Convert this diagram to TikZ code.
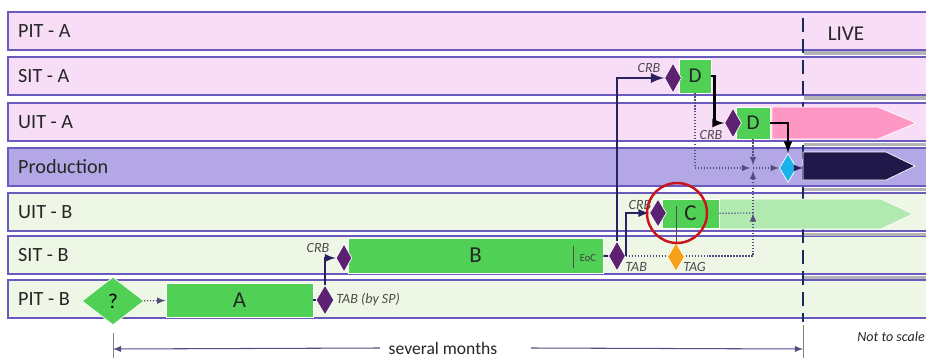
\documentclass[tikz,border=0pt]{standalone}
\usepackage{fontspec}
\setmainfont{Carlito}
\usetikzlibrary{shapes.geometric}

\definecolor{lanepink}{HTML}{F8DDF7}
\definecolor{laneprod}{HTML}{B3A8E5}
\definecolor{lanegreen}{HTML}{EEF6E6}
\definecolor{laneline}{HTML}{6A5AC0}
\definecolor{gapgrey}{HTML}{B4B4B4}
\definecolor{taskgreen}{HTML}{50D055}
\definecolor{gatepurple}{HTML}{5C2171}
\definecolor{livecyan}{HTML}{1AB2E8}
\definecolor{tagorange}{HTML}{F7A11A}
\definecolor{pinkarrow}{HTML}{FF97C5}
\definecolor{navyarrow}{HTML}{201848}
\definecolor{palearrow}{HTML}{B1EAB0}
\definecolor{flownavy}{HTML}{2A2160}
\definecolor{livenavy}{HTML}{1B2A5C}
\definecolor{focusred}{HTML}{C8151B}

\tikzset{
  lane/.style={draw=laneline, line width=0.8pt},
  lanename/.style={anchor=west, font=\fontsize{11.5}{13}\selectfont, text=black!85},
  task/.style={rectangle, fill=taskgreen, draw=white, line width=0.4pt, inner sep=0pt,
    font=\fontsize{13}{15}\selectfont, text=black!85},
  gate/.style={diamond, fill=gatepurple, draw=white, line width=0.4pt, inner sep=0pt,
    minimum width=0.34cm, minimum height=0.6cm},
  gatename/.style={font=\fontsize{8}{9}\selectfont\itshape, text=black!70, inner sep=0pt},
  flow/.style={draw=flownavy, line width=1.1pt, ->},
  blackflow/.style={draw=black, line width=1.3pt, ->},
  dotflow/.style={draw=flownavy!80, densely dotted, line width=0.7pt, ->},
  spanline/.style={draw=flownavy!80, line width=0.6pt, ->},
}

\begin{document}
\begin{tikzpicture}[x=0.02cm, y=-0.02cm, >=latex]
  \useasboundingbox (0,0) rectangle (926,358);
  \clip (0,0) rectangle (926,358);

  % Lanes
  \foreach \name/\top/\col [count=\i] in {PIT - A/12/lanepink, SIT - A/57/lanepink,
      UIT - A/103/lanepink, Production/148/laneprod, UIT - B/193/lanegreen,
      SIT - B/236/lanegreen, PIT - B/280/lanegreen}{
    \draw[lane, fill=\col] (8,\top) rectangle ++(940,38);
    \node[lanename] (lane\i) at (12,\top+19) {\name};
  }
  \foreach \top in {12,57,103,148,193,236}
    \fill[gapgrey] (804,\top+39.5) rectangle (948,\top+43);

  % Go-live line
  \draw[livenavy, line width=1.4pt, dash pattern=on 8pt off 4pt] (803,18) -- (803,322);
  \node[font=\fontsize{12}{14}\selectfont, text=black!85] (live) at (846,34) {LIVE};

  % Releases after go-live
  \fill[pinkarrow, draw=white] (772,107) -- (878,107) -- (916,123) -- (878,139) -- (772,139) -- cycle;
  \fill[navyarrow, draw=white] (803,152) -- (886,152) -- (915,166) -- (886,180) -- (803,180) -- cycle;
  \fill[palearrow, draw=white] (719,199) -- (881,199) -- (913,214) -- (881,229) -- (719,229) -- cycle;
  \coordinate (prodin) at (803,168);

  % PIT - B
  \node[diamond, fill=taskgreen, draw=white, inner sep=0pt, minimum width=1.24cm,
    minimum height=0.96cm, font=\fontsize{12}{14}\selectfont] (qgate) at (113,301) {?};
  \node[task, minimum width=2.94cm, minimum height=0.68cm] (A) at (239.5,300) {A};
  \node[gate, minimum width=0.36cm] (tabsp) at (325,300) {};
  \node[gatename, anchor=west] (tabsplabel) at (336,299) {TAB (by SP)};

  % SIT - B
  \node[task, minimum width=5.1cm, minimum height=0.7cm] (B) at (475.5,255.5) {B};
  \node[gate, minimum width=0.32cm, minimum height=0.56cm] (crbB) at (344,258) {};
  \node[gatename] (crbBlabel) at (318,248) {CRB};
  \draw[black!70, line width=0.5pt] (573,246) -- (573,268);
  \node[font=\fontsize{6}{7}\selectfont, text=black!75] (eoc) at (588,258) {EoC};
  \node[gate] (tabB) at (617,256) {};
  \node[gatename, anchor=west] (tabBlabel) at (625,267) {TAB};

  % UIT - B
  \node[task, minimum width=1.14cm, minimum height=0.58cm] (C) at (690.5,213.5) {C};
  \node[gate, minimum height=0.56cm] (crbUB) at (658,213) {};
  \node[gatename] (crbUBlabel) at (640,205) {CRB};

  % SIT - A and UIT - A
  \node[task, minimum width=0.64cm, minimum height=0.68cm, font=\fontsize{12}{14}\selectfont] (D1) at (695,76) {D};
  \node[gate] (crbSA) at (673,78) {};
  \node[gatename] (crbSAlabel) at (649,68) {CRB};
  \node[task, minimum width=0.68cm, minimum height=0.64cm, font=\fontsize{12}{14}\selectfont] (D2) at (753,123) {D};
  \node[gate] (crbUA) at (733,123) {};
  \node[gatename] (crbUAlabel) at (711,135) {CRB};

  % Production
  \node[gate, fill=livecyan, minimum height=0.58cm] (golive) at (788,168) {};
  \coordinate (tagjoin) at (753,213);
  \coordinate (mergept) at (753,168);

  % Dotted tracks
  \draw[dotflow] (qgate) -- (A);
  \draw[dotflow] (tabB.east) -| (tagjoin);
  \draw[dotflow, -] (C) -- (tagjoin);
  \draw[dotflow, shorten >=1.5pt] (tagjoin) -- (mergept);
  \draw[dotflow, shorten >=1.5pt] (D2) -- (mergept);
  \draw[dotflow, shorten >=1.5pt] (D1) |- (mergept);
  \draw[dotflow] (mergept) -- (golive);

  % TAG
  \node[gate, fill=tagorange, minimum height=0.58cm] (tag) at (676,257) {};
  \node[gatename, anchor=west] (taglabel) at (683,267) {TAG};
  \coordinate (tagtop) at (676,206);
  \draw[black!70, line width=0.5pt] (tag) -- (tagtop);

  % Solid tracks
  \draw[flow, -] (A) -- (tabsp);
  \draw[flow] (tabsp) |- (crbB);
  \draw[flow, -] (B) -- (tabB);
  \draw[flow, line width=1.6pt] (tabB) |- (crbSA);
  \draw[flow] (tabB.east) |- (crbUB);
  \draw[blackflow] (D1.east) -- ++(3,0) |- (crbUA);
  \draw[blackflow] (D2.east) -| (golive);
  \draw[flow, line width=0.8pt] (golive) -- (prodin);

  % Focus ring
  \node[circle, draw=focusred, line width=1.4pt, minimum size=1.2cm] (focus) at (677,213) {};

  % Time span
  \coordinate (spanL) at (113,349);
  \coordinate (spanR) at (803,349);
  \node[font=\fontsize{10}{12}\selectfont, text=black!85, inner sep=2pt] (span) at (443,348) {several months};
  \draw[spanline] ([xshift=-0.1cm]span.west) -- (spanL);
  \draw[spanline] ([xshift=0.6cm]span.east) -- (spanR);
  \draw[black!50, line width=0.5pt] (113,333) -- (113,360);
  \draw[black!50, line width=0.5pt] (803,325) -- (803,360);
  \node[anchor=west, inner sep=0pt, font=\fontsize{8}{10}\selectfont\itshape, text=black!85] (scale) at (857,337) {Not to scale};
\end{tikzpicture}
\end{document}
